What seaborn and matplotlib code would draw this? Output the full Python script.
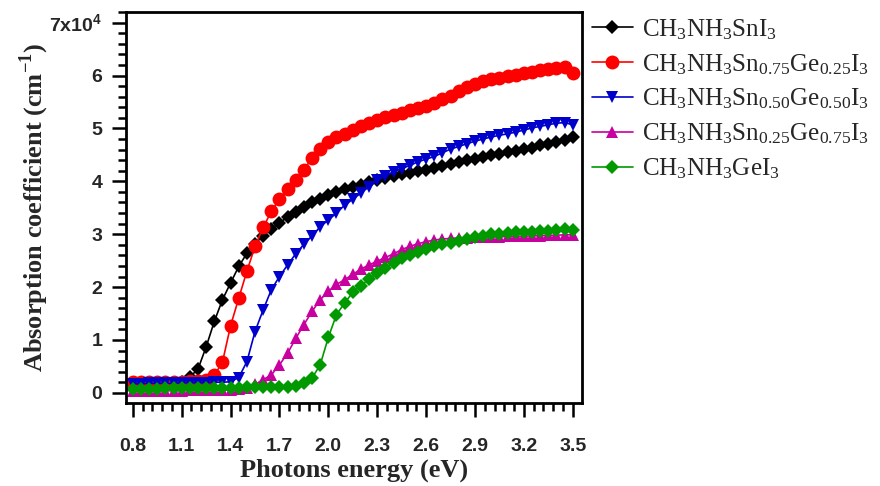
import matplotlib
matplotlib.use("Agg")
import matplotlib.pyplot as plt
import seaborn as sns
from matplotlib.ticker import FixedLocator, AutoMinorLocator, FixedFormatter

# photon energy grid (eV)
energy = [0.80, 0.85, 0.90, 0.95, 1.00, 1.05, 1.10, 1.15, 1.20, 1.25,
          1.30, 1.35, 1.40, 1.45, 1.50, 1.55, 1.60, 1.65, 1.70, 1.75,
          1.80, 1.85, 1.90, 1.95, 2.00, 2.05, 2.10, 2.15, 2.20, 2.25,
          2.30, 2.35, 2.40, 2.45, 2.50, 2.55, 2.60, 2.65, 2.70, 2.75,
          2.80, 2.85, 2.90, 2.95, 3.00, 3.05, 3.10, 3.15, 3.20, 3.25,
          3.30, 3.35, 3.40, 3.45, 3.50]

# absorption coefficient, in units of 1e4 cm^-1
sni3 = [0.16, 0.16, 0.17, 0.17, 0.17, 0.18, 0.20, 0.30, 0.45, 0.87,
        1.35, 1.76, 2.08, 2.39, 2.64, 2.82, 2.97, 3.10, 3.22, 3.32,
        3.42, 3.51, 3.60, 3.67, 3.74, 3.80, 3.85, 3.90, 3.94, 3.98,
        4.02, 4.06, 4.10, 4.13, 4.16, 4.19, 4.22, 4.26, 4.29, 4.33,
        4.36, 4.40, 4.43, 4.46, 4.49, 4.52, 4.55, 4.58, 4.61, 4.64,
        4.68, 4.71, 4.75, 4.79, 4.84]
sn75 = [0.20, 0.20, 0.20, 0.21, 0.21, 0.21, 0.21, 0.22, 0.22, 0.25,
        0.33, 0.58, 1.27, 1.79, 2.30, 2.77, 3.13, 3.43, 3.67, 3.86,
        4.03, 4.21, 4.45, 4.62, 4.75, 4.83, 4.90, 4.97, 5.04, 5.10,
        5.16, 5.21, 5.26, 5.30, 5.34, 5.38, 5.43, 5.49, 5.55, 5.62,
        5.70, 5.78, 5.85, 5.89, 5.93, 5.96, 5.99, 6.02, 6.05, 6.07,
        6.10, 6.12, 6.14, 6.16, 6.05]
sn50 = [0.17, 0.17, 0.18, 0.18, 0.18, 0.18, 0.19, 0.19, 0.19, 0.19,
        0.20, 0.20, 0.21, 0.29, 0.59, 1.16, 1.57, 1.95, 2.20, 2.42,
        2.63, 2.81, 2.97, 3.14, 3.27, 3.40, 3.55, 3.66, 3.78, 3.90,
        4.02, 4.10, 4.18, 4.24, 4.30, 4.37, 4.42, 4.47, 4.54, 4.61,
        4.66, 4.71, 4.76, 4.80, 4.84, 4.87, 4.90, 4.93, 4.97, 5.01,
        5.04, 5.07, 5.10, 5.11, 5.07]
sn25 = [0.04, 0.04, 0.04, 0.04, 0.04, 0.04, 0.04, 0.05, 0.05, 0.05,
        0.05, 0.05, 0.06, 0.07, 0.10, 0.16, 0.25, 0.34, 0.53, 0.75,
        1.03, 1.29, 1.54, 1.76, 1.92, 2.05, 2.14, 2.24, 2.34, 2.42,
        2.49, 2.56, 2.63, 2.71, 2.77, 2.82, 2.86, 2.89, 2.91, 2.92,
        2.93, 2.93, 2.94, 2.94, 2.95, 2.95, 2.96, 2.96, 2.96, 2.97,
        2.97, 2.98, 2.98, 2.99, 2.99]
gei3 = [0.08, 0.08, 0.08, 0.08, 0.09, 0.09, 0.09, 0.09, 0.09, 0.10,
        0.10, 0.10, 0.10, 0.10, 0.11, 0.11, 0.11, 0.11, 0.12, 0.12,
        0.13, 0.18, 0.28, 0.53, 1.05, 1.48, 1.70, 1.90, 2.03, 2.15,
        2.27, 2.37, 2.46, 2.55, 2.61, 2.67, 2.72, 2.77, 2.81, 2.84,
        2.87, 2.91, 2.94, 2.97, 3.00, 3.01, 3.02, 3.04, 3.05, 3.05,
        3.06, 3.07, 3.08, 3.09, 3.08]

labels = [r"$\mathrm{CH_3NH_3SnI_3}$",
          r"$\mathrm{CH_3NH_3Sn_{0.75}Ge_{0.25}I_3}$",
          r"$\mathrm{CH_3NH_3Sn_{0.50}Ge_{0.50}I_3}$",
          r"$\mathrm{CH_3NH_3Sn_{0.25}Ge_{0.75}I_3}$",
          r"$\mathrm{CH_3NH_3GeI_3}$"]
x_ticks = [0.8, 1.1, 1.4, 1.7, 2.0, 2.3, 2.6, 2.9, 3.2, 3.5]
y_ticks = [0, 1, 2, 3, 4, 5, 6, 7]
y_tick_labels = ["0", "1", "2", "3", "4", "5", "6", r"7x10$^{\mathbf{4}}$"]

sns.set_style("ticks")
plt.rcParams["font.family"] = ["Liberation Sans", "DejaVu Sans"]
plt.rcParams["mathtext.fontset"] = "custom"
plt.rcParams["mathtext.rm"] = "Liberation Serif"
plt.rcParams["mathtext.bf"] = "Liberation Sans:bold"
plt.rcParams["mathtext.sf"] = "Liberation Serif:bold"

fig = plt.figure(figsize=(8.8, 4.86), dpi=100)
ax = fig.add_axes([0.143, 0.171, 0.518, 0.804])

series = [sni3, sn75, sn50, sn25, gei3]
colors = ["black", "#ff0000", "#0000cc", "#c800a0", "#009900"]
markers = ["D", "o", "v", "^", "D"]
msizes = [7, 10, 9, 9, 7]

for vals, lab, col, mk, ms in zip(series, labels, colors, markers, msizes):
    sns.lineplot(x=energy, y=vals, ax=ax, color=col, marker=mk, markersize=ms,
                 markeredgewidth=0, linewidth=1.2, label=lab)

ax.set_xlim(0.757, 3.555)
ax.set_ylim(-0.19, 7.2)
ax.xaxis.set_major_locator(FixedLocator(x_ticks))
ax.xaxis.set_minor_locator(AutoMinorLocator(5))
ax.yaxis.set_major_locator(FixedLocator(y_ticks))
ax.yaxis.set_major_formatter(FixedFormatter(y_tick_labels))
ax.yaxis.set_minor_locator(AutoMinorLocator(5))

for s in ax.spines.values():
    s.set_linewidth(2.0)
    s.set_color("black")
ax.tick_params(which="major", direction="out", length=10, width=1.8,
               labelsize=14, color="black")
ax.tick_params(which="minor", direction="out", length=6, width=1.8, color="black")
ax.tick_params(axis="x", which="major", pad=15)
ax.tick_params(axis="y", which="major", pad=7)
for t in ax.get_xticklabels() + ax.get_yticklabels():
    t.set_fontweight("bold")

ax.set_xlabel("Photons energy (eV)", fontsize=19, fontweight="bold",
              family="Liberation Serif", labelpad=3)
ax.set_ylabel(r"Absorption coefficient (cm$^{\mathsf{-1}}$)", fontsize=19,
              fontweight="bold", family="Liberation Serif")
ax.yaxis.set_label_coords(-0.165, 0.5)

leg = ax.legend(loc="upper left", bbox_to_anchor=(1.0, 1.013), frameon=False,
                fontsize=18, handlelength=1.65, handletextpad=0.35,
                labelspacing=0.41, borderaxespad=0.0, borderpad=0.4,
                markerscale=1.0)

fig.savefig("out.png", dpi=100)
